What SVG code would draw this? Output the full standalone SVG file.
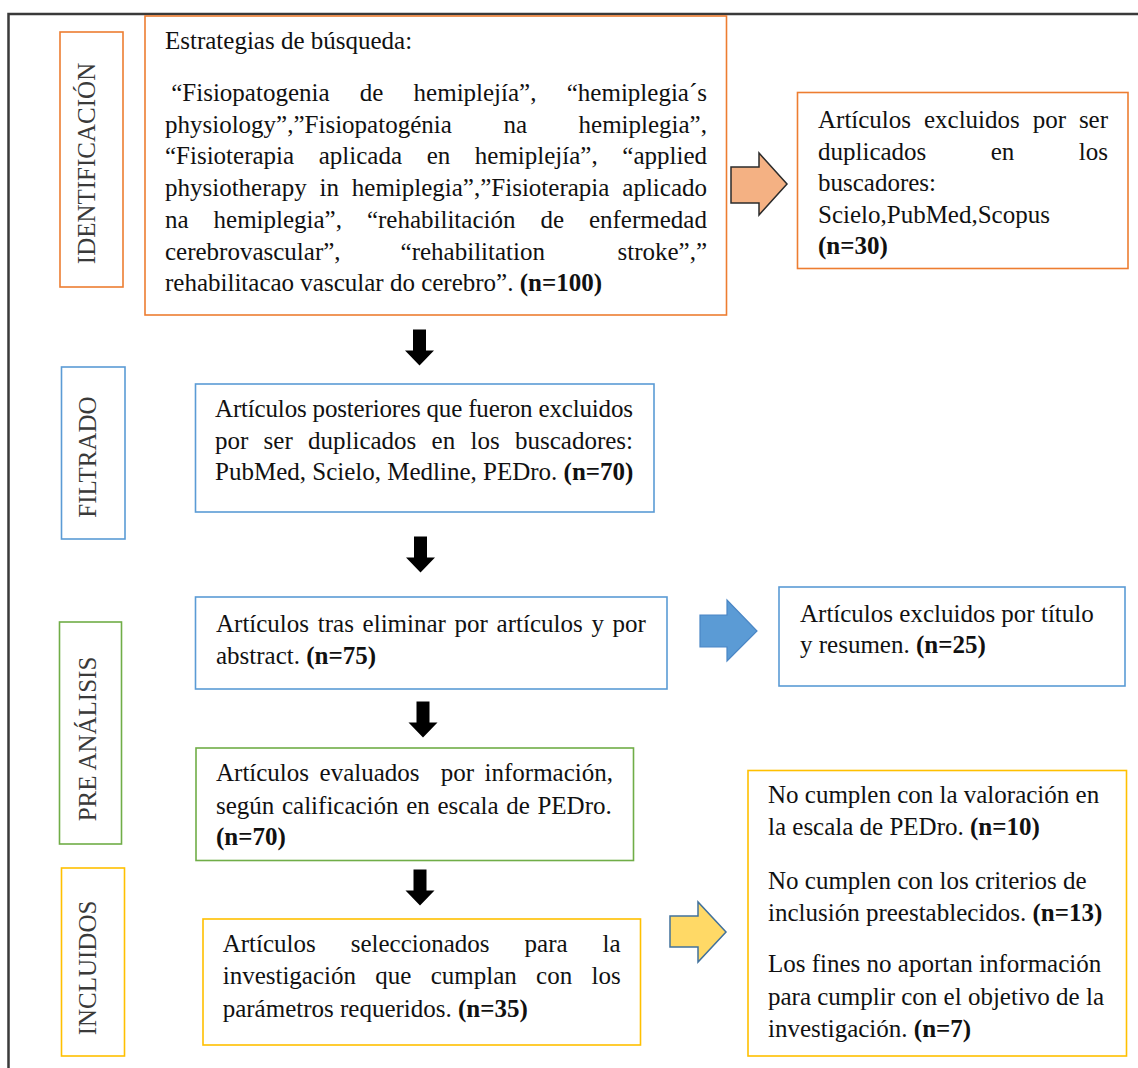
<svg xmlns="http://www.w3.org/2000/svg" width="1138" height="1068" viewBox="0 0 1138 1068">
<style>
  text { font-family: "Liberation Serif", "Times New Roman", serif; font-size: 25px; fill: #111; }
  .b { font-weight: bold; }
  .lbl { fill: #3a3a3a; text-anchor: middle; }
  .box { fill: #fff; stroke-width: 1.6; }
  .or { stroke: #ED7D31; }
  .bl { stroke: #5B9BD5; }
  .gr { stroke: #70AD47; }
  .ye { stroke: #FFC000; }
  .frame { stroke: #3a3a3a; stroke-width: 2.5; fill: none; }
</style>
<defs>
  <path id="down" d="M-6.5,0H6.5V21H14.5L0,36L-14.5,21H-6.5Z" fill="#000"/>
</defs>
<rect width="1138" height="1068" fill="#fff"/>
<path class="frame" d="M8.5,1068V14H1138"/>

<!-- stage labels -->
<g id="lbl-identificacion">
  <rect class="box or" x="60" y="32" width="63" height="255"/>
  <text class="lbl" transform="translate(95,163.5) rotate(-90)">IDENTIFICACIÓN</text>
</g>
<g id="lbl-filtrado">
  <rect class="box bl" x="61.5" y="367" width="63.5" height="172"/>
  <text class="lbl" transform="translate(96,457) rotate(-90)">FILTRADO</text>
</g>
<g id="lbl-preanalisis">
  <rect class="box gr" x="59.5" y="622" width="62" height="222"/>
  <text class="lbl" transform="translate(95.5,739) rotate(-90)">PRE ANÁLISIS</text>
</g>
<g id="lbl-incluidos">
  <rect class="box ye" x="61.5" y="868" width="63" height="188"/>
  <text class="lbl" transform="translate(96,968) rotate(-90)">INCLUIDOS</text>
</g>

<!-- node 1 -->
<g id="n-busqueda">
  <rect class="box or" x="145" y="16" width="581.5" height="299"/>
  <text x="165" y="49">Estrategias de búsqueda:</text>
  <text y="101"><tspan x="171.25">“Fisiopatogenia</tspan><tspan x="359.8">de</tspan><tspan x="413.6">hemiplejía”,</tspan><tspan x="566.75">“hemiplegia´s</tspan></text>
  <text y="132.7"><tspan x="165">physiology”,”Fisiopatogénia</tspan><tspan x="503.4">na</tspan><tspan x="578.55">hemiplegia”,</tspan></text>
  <text y="164.4"><tspan x="165">“Fisioterapia</tspan><tspan x="318.74">aplicada</tspan><tspan x="426.63">en</tspan><tspan x="474.82">hemiplejía”,</tspan><tspan x="622.31">“applied</tspan></text>
  <text y="196.1"><tspan x="165">physiotherapy</tspan><tspan x="319.5">in</tspan><tspan x="351.8">hemiplegia”,”Fisioterapia</tspan><tspan x="622.3">aplicado</tspan></text>
  <text y="227.8"><tspan x="165">na</tspan><tspan x="213.54">hemiplegia”,</tspan><tspan x="366.9">“rehabilitación</tspan><tspan x="540.4">de</tspan><tspan x="588.95">enfermedad</tspan></text>
  <text y="259.5"><tspan x="165">cerebrovascular”,</tspan><tspan x="400.6">“rehabilitation</tspan><tspan x="617.5">stroke”,”</tspan></text>
  <text x="165" y="291.2">rehabilitacao vascular do cerebro”. <tspan class="b">(n=100)</tspan></text>
</g>

<!-- node excluded 1 -->
<g id="n-excl-duplicados">
  <rect class="box or" x="797.5" y="92.5" width="330.5" height="176"/>
  <text y="128"><tspan x="818">Artículos</tspan><tspan x="923.95">excluidos</tspan><tspan x="1032.65">por</tspan><tspan x="1078.9">ser</tspan></text>
  <text y="159.5"><tspan x="818">duplicados</tspan><tspan x="990.75">en</tspan><tspan x="1078.8">los</tspan></text>
  <text x="818" y="191">buscadores:</text>
  <text x="818" y="222.5">Scielo,PubMed,Scopus</text>
  <text x="818" y="254" class="b">(n=30)</text>
</g>

<!-- node 2 -->
<g id="n-filtrado">
  <rect class="box bl" x="195.5" y="384" width="458.5" height="128"/>
  <text x="215" y="417" textLength="418" lengthAdjust="spacing">Artículos posteriores que fueron excluidos</text>
  <text y="448.5"><tspan x="215">por</tspan><tspan x="263.6">ser</tspan><tspan x="308">duplicados</tspan><tspan x="431.6">en</tspan><tspan x="470.5">los</tspan><tspan x="515">buscadores:</tspan></text>
  <text x="215" y="480">PubMed, Scielo, Medline, PEDro. <tspan class="b">(n=70)</tspan></text>
</g>

<!-- node 3 -->
<g id="n-tras-eliminar">
  <rect class="box bl" x="195.5" y="597" width="471.5" height="92"/>
  <text y="631.5"><tspan x="216">Artículos</tspan><tspan x="317.8">tras</tspan><tspan x="362.6">eliminar</tspan><tspan x="454.6">por</tspan><tspan x="496.6">artículos</tspan><tspan x="591.4">y</tspan><tspan x="612.6">por</tspan></text>
  <text x="216" y="663.5">abstract. <tspan class="b">(n=75)</tspan></text>
</g>

<!-- node excluded 2 -->
<g id="n-excl-titulo">
  <rect class="box bl" x="779" y="587" width="346" height="99"/>
  <text x="800" y="622">Artículos excluidos por título</text>
  <text x="800" y="653">y resumen. <tspan class="b">(n=25)</tspan></text>
</g>

<!-- node 4 -->
<g id="n-evaluados">
  <rect class="box gr" x="196" y="748" width="437.5" height="112.5"/>
  <text y="780.7"><tspan x="216">Artículos</tspan><tspan x="319.6">evaluados</tspan><tspan x="440.7">por</tspan><tspan x="484.55">información,</tspan></text>
  <text x="216" y="813.5" word-spacing="1.4">según calificación en escala de PEDro.</text>
  <text x="216" y="845" class="b">(n=70)</text>
</g>

<!-- node 5 -->
<g id="n-incluidos">
  <rect class="box ye" x="203" y="919" width="437.5" height="126"/>
  <text y="951.5"><tspan x="222.7">Artículos</tspan><tspan x="350.75">seleccionados</tspan><tspan x="524.6">para</tspan><tspan x="602.6">la</tspan></text>
  <text y="984"><tspan x="222.7">investigación</tspan><tspan x="375.3">que</tspan><tspan x="430.7">cumplan</tspan><tspan x="536.1">con</tspan><tspan x="591.5">los</tspan></text>
  <text x="222.7" y="1016.5">parámetros requeridos. <tspan class="b">(n=35)</tspan></text>
</g>

<!-- node excluded 3 -->
<g id="n-excl-final">
  <rect class="box ye" x="748" y="770.5" width="378.5" height="285.5"/>
  <text x="768" y="803">No cumplen con la valoración en</text>
  <text x="768" y="835">la escala de PEDro. <tspan class="b">(n=10)</tspan></text>
  <text x="768" y="888.5">No cumplen con los criterios de</text>
  <text x="768" y="921">inclusión preestablecidos. <tspan class="b">(n=13)</tspan></text>
  <text x="768" y="971.5">Los fines no aportan información</text>
  <text x="768" y="1004.5">para cumplir con el objetivo de la</text>
  <text x="768" y="1037">investigación. <tspan class="b">(n=7)</tspan></text>
</g>

<!-- connectors -->
<g id="connectors">
  <use href="#down" x="419.5" y="329.5"/>
  <use href="#down" x="420.5" y="536.5"/>
  <use href="#down" x="423" y="701.5"/>
  <use href="#down" x="420" y="869.5"/>
  <path d="M731,167H759V153L787,184L759,215V203H731Z" fill="#F4B183" stroke="#2b2b2b" stroke-width="1.5" stroke-linejoin="miter"/>
  <path d="M700,615H727V600L757,631L727,661V647H700Z" fill="#5B9BD5" stroke="#4A86C5" stroke-width="1.2"/>
  <path d="M670,916H698V902L726,932L698,962V947H670Z" fill="#FFD966" stroke="#41719C" stroke-width="1.5"/>
</g>
</svg>
